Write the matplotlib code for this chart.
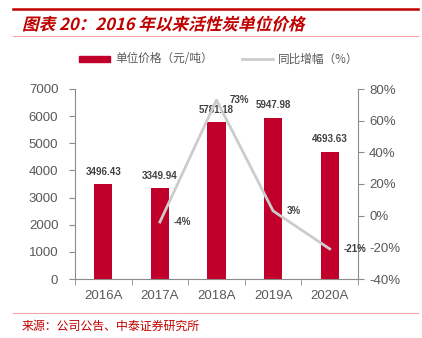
import matplotlib
matplotlib.use("Agg")
import matplotlib.pyplot as plt
from matplotlib.lines import Line2D
import matplotlib.patches as mpatches
from matplotlib.textpath import TextPath
from matplotlib.font_manager import FontProperties
from matplotlib.transforms import Affine2D, IdentityTransform

plt.rcParams['font.family'] = ['Liberation Sans', 'Noto Sans CJK SC', 'DejaVu Sans']

years = ["2016A", "2017A", "2018A", "2019A", "2020A"]
price = [3496.43, 3349.94, 5781.18, 5947.98, 4693.63]
growth_years = ["2017A", "2018A", "2019A", "2020A"]
growth = [-4, 73, 3, -21]

RED = "#c0002b"
GRAY = "#cccccc"
AXC = "#8c8c8c"
TXT = "#404040"
TICK = "#595959"
CJK = ['Noto Sans CJK SC', 'DejaVu Sans']

W, H = 422, 338
fig = plt.figure(figsize=(W / 100, H / 100), dpi=100)

# header / footer decorations
fig.add_artist(Line2D([13 / W, 418 / W], [1 - 9 / H, 1 - 9 / H], color="#c00000", lw=1.8))
fig.add_artist(Line2D([13 / W, 418 / W], [1 - 36 / H, 1 - 36 / H], color="#f2a6a6", lw=0.8))
fig.add_artist(Line2D([13 / W, 418 / W], [1 - 313 / H, 1 - 313 / H], color="#f2a6a6", lw=0.8))

# italic-looking title: text path with a shear
title = "图表 20：2016 年以来活性炭单位价格"
tp = TextPath((0, 0), title, size=10,
              prop=FontProperties(family="Noto Sans CJK SC", weight="bold"))
ext = tp.get_extents()
scale = (303 - 22) / ext.width
tr = Affine2D().scale(scale).skew_deg(14, 0).translate(22, H - 30)
fig.add_artist(mpatches.PathPatch(tr.transform_path(tp), color="#c00000", lw=0,
                                  transform=IdentityTransform()))

fig.text(22 / W, 1 - 326 / H, "来源：公司公告、中泰证券研究所", color="#c00000",
         fontsize=8.6, va="center", ha="left", family=CJK)

# legend, laid out by hand
fig.add_artist(mpatches.Rectangle((79 / W, 1 - 62 / H), 31 / W, 6 / H, color=RED,
                                  transform=fig.transFigure))
fig.text(115 / W, 1 - 59 / H, "单位价格（元/吨）", fontsize=8.4, color=TICK,
         va="center", ha="left", family=CJK)
fig.add_artist(Line2D([242 / W, 273 / W], [1 - 59 / H, 1 - 59 / H], color=GRAY, lw=2))
fig.text(278 / W, 1 - 59 / H, "同比增幅（%）", fontsize=8.4, color=TICK,
         va="center", ha="left", family=CJK)

ax = fig.add_axes([75 / W, 1 - 279 / H, (358 - 75) / W, (279 - 89) / H])
x = list(range(len(years)))
ax.bar(x, price, width=0.32, color=RED, zorder=2)
for xi, v in zip(x, price):
    ax.text(xi, v + 460, f"{v:.2f}", ha="center", va="center", fontsize=7,
            fontweight="bold", color=TXT)
ax.set_ylim(0, 7000)
ax.set_xlim(-0.5, 4.5)
ax.set_yticks(range(0, 7001, 1000))
ax.set_xticks(x)
ax.set_xticklabels(years)
ax.set_xticks([i - 0.5 for i in range(6)], minor=True)
ax.tick_params(axis="x", which="major", length=0, pad=8, labelsize=9.5, labelcolor=TICK)
ax.tick_params(axis="x", which="minor", length=4, color=AXC, direction="out")
ax.tick_params(axis="y", length=4, color=AXC, labelsize=9.5, labelcolor=TICK, pad=8)
for s in ["top", "right"]:
    ax.spines[s].set_visible(False)
for s in ["left", "bottom"]:
    ax.spines[s].set_color(AXC)

ax2 = ax.twinx()
gx = [years.index(g) for g in growth_years]
ax2.plot(gx, growth, color=GRAY, lw=2, zorder=3)
for xi, v in zip(gx, growth):
    ax2.text(xi + 0.24, v, f"{v}%", ha="left", va="center", fontsize=7,
             fontweight="bold", color=TXT)
ax2.set_ylim(-40, 80)
ax2.set_yticks(range(-40, 81, 20))
ax2.set_yticklabels([f"{t}%" for t in range(-40, 81, 20)])
ax2.tick_params(axis="y", length=4, color=AXC, labelsize=9.5, labelcolor=TICK, pad=4)
for s in ["top", "left", "bottom"]:
    ax2.spines[s].set_visible(False)
ax2.spines["right"].set_color(AXC)

fig.savefig("out.png", dpi=100)
